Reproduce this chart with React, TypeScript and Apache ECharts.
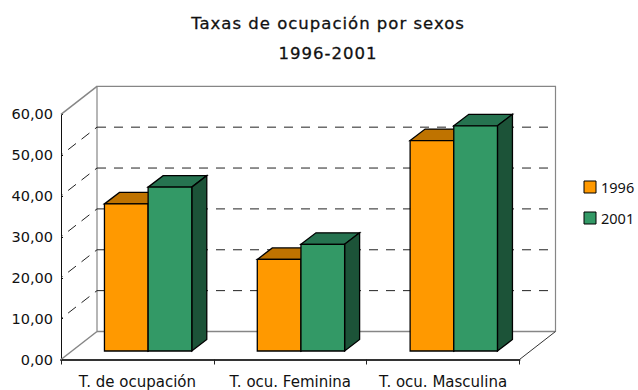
import React, { useEffect, useRef } from "react";
import * as echarts from "echarts";

const categories = ["T. de ocupación", "T. ocu. Feminina", "T. ocu. Masculina"];
const years = ["1996", "2001"];
const values1996 = [36.0, 22.4, 51.5];
const values2001 = [40.1, 26.1, 55.1];
const yTicks = [0, 10, 20, 30, 40, 50, 60];
const titleLines = ["Taxas de ocupación por sexos", "1996-2001"];

const FONT = "DejaVu Sans";
const DX = 36, DY = -28;
const palette = [
  { face: "#FF9900", top: "#BF7300", side: "#BF7300" },
  { face: "#339966", top: "#267350", side: "#1C5338" },
];

function renderWall(_p: any, api: any) {
  const v = api.value(1);
  const band = api.size([1, 0])[0];
  const [c0, y] = api.coord([0, v]);
  const [c2] = api.coord([2, v]);
  const x0 = c0 - band / 2;
  const x1 = c2 + band / 2;
  const children: any[] = [];
  const gray = { stroke: "#868686", lineWidth: 1.5, fill: "none" };
  if (v === 0) {
    const top = api.coord([0, 60])[1];
    children.push(
      { type: "polyline", shape: { points: [[x0 + DX, y + DY], [x0 + DX, top + DY], [x1 + DX, top + DY], [x1 + DX, y + DY]] }, style: { ...gray, lineWidth: 1.2 } },
      { type: "line", shape: { x1: x0, y1: y, x2: x0 + DX, y2: y + DY }, style: gray },
      { type: "line", shape: { x1: x0 + DX, y1: y + DY, x2: x1 + DX, y2: y + DY }, style: gray },
      { type: "line", shape: { x1: x1, y1: y, x2: x1 + DX, y2: y + DY }, style: { stroke: "#333", lineWidth: 1 } },
    );
  } else if (v === 60) {
    children.push({ type: "line", shape: { x1: x0, y1: y, x2: x0 + DX, y2: y + DY }, style: gray });
  } else {
    children.push(
      { type: "line", shape: { x1: x0, y1: y, x2: x0 + DX, y2: y + DY }, style: { stroke: "#222", lineWidth: 1, lineDash: [10, 7], lineDashOffset: 8 } },
      { type: "line", shape: { x1: x0 + DX, y1: y + DY, x2: x1 + DX - 5, y2: y + DY }, style: { stroke: "#222", lineWidth: 1, lineDash: [9, 8] } },
    );
  }
  return { type: "group", children };
}

function makeRenderBar(seriesIdx: number) {
  return (_p: any, api: any) => {
    const cat = api.value(0);
    const val = api.value(1);
    const band = api.size([1, 0])[0];
    const w = band * 0.2857;
    const [cx, yTop0] = api.coord([cat, val]);
    const [, yBase0] = api.coord([cat, 0]);
    const shiftX = 10.7, shiftY = -8.5;
    const xl = cx + shiftX + (seriesIdx - 1) * w;
    const xr = xl + w;
    const yt = yTop0 + shiftY;
    const yb = yBase0 + shiftY;
    const dx = 15, dy = -11.5;
    const c = palette[seriesIdx];
    const edge = { stroke: "#000", lineWidth: 1.3, lineJoin: "miter" };
    return {
      type: "group",
      children: [
        { type: "polygon", shape: { points: [[xl, yt], [xl + dx, yt + dy], [xr + dx, yt + dy], [xr, yt]] }, style: { fill: c.top, ...edge } },
        { type: "polygon", shape: { points: [[xr, yt], [xr + dx, yt + dy], [xr + dx, yb + dy], [xr, yb]] }, style: { fill: c.side, ...edge } },
        { type: "rect", shape: { x: xl, y: yt, width: w, height: yb - yt }, style: { fill: c.face, ...edge } },
      ],
    };
  };
}

export default function App() {
  const ref = useRef<HTMLDivElement>(null);
  useEffect(() => {
    const chart = echarts.init(ref.current!, undefined, { renderer: "svg" });
    chart.setOption({
      animation: false,
      backgroundColor: "#fff",
      title: {
        text: titleLines.join("\n"),
        left: 323,
        top: 3,
        textAlign: "center",
        textStyle: {
          fontFamily: FONT, fontSize: 16.5, fontWeight: "normal", color: "#111", lineHeight: 30,
          textBorderColor: "#111", textBorderWidth: 0.3,
        },
      },
      legend: {
        orient: "vertical",
        left: 578.5,
        top: 174.5,
        itemWidth: 12,
        itemHeight: 12,
        itemGap: 16,
        selectedMode: false,
        textStyle: { fontFamily: "Noto Sans", fontSize: 14.5, color: "#111" },
        data: years.map((y, i) => ({
          name: y,
          icon: "rect",
          itemStyle: { color: palette[i].face, borderColor: "#000", borderWidth: 1 },
        })),
      },
      grid: { left: 61, right: 118.5, top: 114.3, bottom: 30.5, containLabel: false },
      xAxis: {
        type: "category",
        data: categories,
        axisLine: { lineStyle: { color: "#333", width: 2 } },
        axisTick: { show: true, alignWithLabel: false, length: 5, lineStyle: { color: "#222", width: 1 } },
        axisLabel: { fontFamily: FONT, fontSize: 15, color: "#111", margin: 15, interval: 0 },
      },
      yAxis: {
        type: "value",
        min: 0,
        max: 60,
        interval: 10,
        axisLine: { show: true, lineStyle: { color: "#111", width: 1 } },
        axisTick: { show: true, inside: true, length: 2, lineStyle: { color: "#111" } },
        splitLine: { show: false },
        axisLabel: {
          fontFamily: FONT,
          fontSize: 14.5,
          color: "#111",
          margin: 8,
          formatter: (v: number) => v.toFixed(2).replace(".", ","),
        },
      },
      series: [
        {
          name: "wall",
          type: "custom",
          renderItem: renderWall,
          data: yTicks.map((v) => [0, v]),
          encode: { x: 0, y: 1 },
          silent: true,
          z: 1,
        },
        ...[values1996, values2001].map((vals, si) => ({
          name: years[si],
          type: "custom",
          renderItem: makeRenderBar(si),
          data: vals.map((v, i) => [i, v]),
          encode: { x: 0, y: 1 },
          itemStyle: { color: palette[si].face },
          z: 2 + si,
        })),
      ],
    });
    ref.current!.querySelectorAll("text").forEach((t) => {
      if (titleLines.includes(t.textContent || "")) (t as any).style.letterSpacing = "1px";
    });
    return () => chart.dispose();
  }, []);
  return <div ref={ref} style={{ position: "absolute", left: 0, top: 0, width: 638, height: 390 }} />;
}
